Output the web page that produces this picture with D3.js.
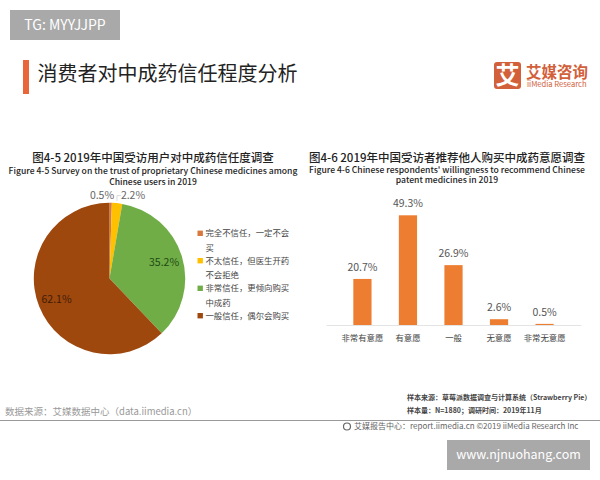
<!DOCTYPE html>
<html>
<head>
<meta charset="utf-8">
<script src="https://cdn.jsdelivr.net/npm/d3@7"></script>
<style>
html, body { margin: 0; padding: 0; background: #fff; }
svg { display: block; }
text { font-family: "Noto Sans CJK SC", "Noto Sans", sans-serif; }
</style>
</head>
<body>
<svg width="600" height="480"></svg>
<script>
// pie chart data
const pieValues = [0.5, 2.2, 35.2, 62.1];
const pieColors = ["#d9783c", "#ffc000", "#70ad47", "#9e480e"];
const pieLegend = [
    ["完全不信任，一定不会", "买"],
    ["不太信任，但医生开药", "不会拒绝"],
    ["非常信任，更倾向购买", "中成药"],
    ["一般信任，偶尔会购买"]
];

// bar chart data
const barCategories = ["非常有意愿", "有意愿", "一般", "无意愿", "非常无意愿"];
const barValues = [20.7, 49.3, 26.9, 2.6, 0.5];

const svg = d3.select("svg");
const orange = "#ed7d31";

function addText(x, y, str, size, fill, anchor, weight) {
    return svg.append("text")
        .attr("x", x)
        .attr("y", y)
        .attr("dy", "0.36em")
        .attr("font-size", size)
        .attr("fill", fill)
        .attr("text-anchor", anchor || "start")
        .attr("font-weight", weight || 400)
        .text(str);
}

// header
svg.append("rect").attr("x", 10).attr("y", 10).attr("width", 110).attr("height", 30).attr("fill", "#a9a9a9");
addText(65, 25, "TG: MYYJJPP", 14, "#fff", "middle");
svg.append("rect").attr("x", 23).attr("y", 60).attr("width", 6).attr("height", 34).attr("fill", "#e8663a");
addText(37.5, 74, "消费者对中成药信任程度分析", 20, "#222");

// logo
svg.append("rect").attr("x", 494).attr("y", 62).attr("width", 27).attr("height", 27).attr("rx", 3).attr("fill", "#d2603a");
addText(507.5, 75.5, "艾", 24, "#fff", "middle", 700);
addText(526, 72, "艾媒咨询", 15.5, "#d2603a", "start", 700);
addText(527, 84.5, "iiMedia Research", 7.6, "#d2603a");

// chart titles
addText(153, 158, "图4-5 2019年中国受访用户对中成药信任度调查", 11.5, "#222", "middle", 500);
addText(153, 171, "Figure 4-5 Survey on the trust of proprietary Chinese medicines among", 8.6, "#222", "middle", 500);
addText(153, 181.5, "Chinese users in 2019", 8.6, "#222", "middle", 500);
addText(447, 158, "图4-6 2019年中国受访者推荐他人购买中成药意愿调查", 11.5, "#222", "middle", 500);
addText(447, 170, "Figure 4-6 Chinese respondents'  willingness to recommend Chinese", 8.6, "#222", "middle", 500);
addText(447, 180, "patent medicines in 2019", 8.6, "#222", "middle", 500);

// pie
const pieCx = 109.5, pieCy = 278.5, pieR = 75.7;
const pie = d3.pie().sort(null)(pieValues);
const arc = d3.arc().innerRadius(0).outerRadius(pieR);
const labelArc = d3.arc().innerRadius(57).outerRadius(57);
const pieG = svg.append("g").attr("transform", `translate(${pieCx},${pieCy})`);

pieG.selectAll("path")
    .data(pie)
    .enter().append("path")
    .attr("d", arc)
    .attr("fill", (d, i) => pieColors[i]);

// the two big slices are labelled inside, the two small ones above the pie
const insideColors = { 2: "#1e4a12", 3: "#3f1c05" };
pieG.selectAll("text")
    .data(pie.filter(d => d.index >= 2))
    .enter().append("text")
    .attr("transform", d => `translate(${labelArc.centroid(d)})`)
    .attr("dy", "0.36em")
    .attr("text-anchor", "middle")
    .attr("font-size", 10.5)
    .attr("fill", d => insideColors[d.index])
    .text(d => d3.format(".1f")(d.value) + "%");

addText(102, 195, d3.format(".1f")(pieValues[0]) + "%", 10.5, "#666", "middle");
addText(133, 195, d3.format(".1f")(pieValues[1]) + "%", 10.5, "#666", "middle");
svg.append("path").attr("d", "M117,201V195.5H121").attr("fill", "none").attr("stroke", "#ccc").attr("stroke-width", 0.7);

// pie legend
const legendYs = [233.3, 260.7, 288.3, 315.7];
pieLegend.forEach((lines, i) => {
    svg.append("rect")
        .attr("x", 197.5).attr("y", legendYs[i] - 2.7)
        .attr("width", 5.4).attr("height", 5.4)
        .attr("fill", pieColors[i]);
    lines.forEach((line, j) => {
        addText(205.5, legendYs[i] + j * 14.4, line, 8.4, "#444");
    });
});

// bars
const x = d3.scaleBand().domain(barCategories).range([326, 581]).padding(0.6);
const y = d3.scaleLinear().domain([0, 49.3]).range([325, 215.3]);

const xAxis = svg.append("g")
    .attr("transform", "translate(0,325)")
    .call(d3.axisBottom(x).tickSize(0).tickPadding(10));
xAxis.select(".domain").attr("stroke", "#ddd").attr("stroke-width", 0.8);
xAxis.selectAll("text")
    .attr("font-family", '"Noto Sans CJK SC", sans-serif')
    .attr("font-size", 8.4)
    .attr("fill", "#444");

svg.selectAll("rect.bar")
    .data(barValues)
    .enter().append("rect")
    .attr("class", "bar")
    .attr("x", (d, i) => x(barCategories[i]))
    .attr("y", d => y(d))
    .attr("width", x.bandwidth())
    .attr("height", d => y(0) - y(d))
    .attr("fill", orange);

svg.selectAll("text.barlabel")
    .data(barValues)
    .enter().append("text")
    .attr("class", "barlabel")
    .attr("x", (d, i) => x(barCategories[i]) + x.bandwidth() / 2)
    .attr("y", d => y(d) - 12)
    .attr("dy", "0.36em")
    .attr("text-anchor", "middle")
    .attr("font-size", 10.5)
    .attr("fill", "#555")
    .text(d => d3.format(".1f")(d) + "%");

// footer
addText(5, 411.5, "数据来源：艾媒数据中心（data.iimedia.cn）", 9.5, "#999");
addText(407, 397, "样本来源：草莓派数据调查与计算系统（Strawberry Pie）", 7, "#444", "start", 700);
addText(407, 410, "样本量：N=1880；调研时间：2019年11月", 7, "#444", "start", 700);
svg.append("line").attr("x1", 0).attr("x2", 600).attr("y1", 420.5).attr("y2", 420.5).attr("stroke", "#999").attr("stroke-width", 1);
svg.append("circle").attr("cx", 347).attr("cy", 426.5).attr("r", 3.5).attr("fill", "none").attr("stroke", "#666").attr("stroke-width", 1.2);
addText(354, 426.5, "艾媒报告中心：report.iimedia.cn  ©2019  iiMedia Research  Inc", 8, "#666");
svg.append("rect").attr("x", 447).attr("y", 440).attr("width", 143).attr("height", 30).attr("fill", "#a9a9a9");
addText(518.5, 454.5, "www.njnuohang.com", 12.5, "#fff", "middle");
</script>
</body>
</html>
